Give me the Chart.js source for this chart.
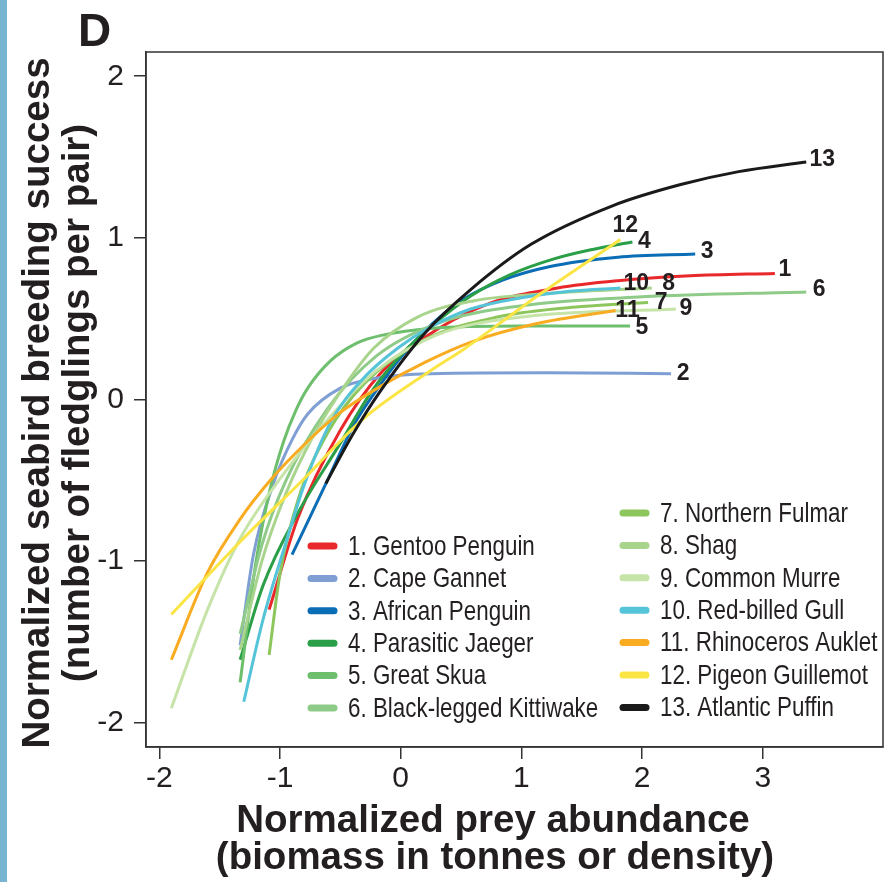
<!DOCTYPE html>
<html><head><meta charset="utf-8">
<script src="https://cdn.jsdelivr.net/npm/chart.js@4.4.1/dist/chart.umd.min.js"></script>
<style>html,body{margin:0;padding:0;background:#fff;}canvas{display:block}</style>
</head><body>
<canvas id="c" width="890" height="882"></canvas>
<script>
// ---- categories / ticks ----
const categories = ["1. Gentoo Penguin","2. Cape Gannet","3. African Penguin","4. Parasitic Jaeger","5. Great Skua","6. Black-legged Kittiwake","7. Northern Fulmar","8. Shag","9. Common Murre","10. Red-billed Gull","11. Rhinoceros Auklet","12. Pigeon Guillemot","13. Atlantic Puffin"];
const endLabels = ["1","2","3","4","5","6","7","8","9","10","11","12","13"];
const xTicks = [-2,-1,0,1,2,3];
const yTicks = [-2,-1,0,1,2];

// ---- series values [prey abundance, breeding success] ----
const gentooPenguin = [[-1.09,-1.30],[-0.85,-0.73],[-0.5,-0.19],[-0.17,0.16],[0.17,0.37],[0.72,0.59],[1.3,0.69],[1.8,0.735],[2.4,0.765],[3.1,0.78]];
const capeGannet = [[-1.33,-1.52],[-1.22,-0.96],[-1.05,-0.51],[-0.9,-0.25],[-0.77,-0.09],[-0.5,0.07],[-0.22,0.13],[0.25,0.16],[1.2,0.165],[2.24,0.16]];
const africanPenguin = [[-0.9,-0.96],[-0.6,-0.49],[-0.39,-0.16],[-0.18,0.08],[0,0.26],[0.25,0.46],[0.52,0.62],[0.85,0.74],[1.22,0.82],[1.8,0.88],[2.44,0.90]];
const parasiticJaeger = [[-1.33,-1.61],[-1.14,-1.15],[-0.85,-0.7],[-0.5,-0.27],[-0.25,0.04],[0.02,0.29],[0.25,0.45],[0.58,0.64],[0.9,0.77],[1.27,0.87],[1.6,0.93],[1.92,0.975]];
const greatSkua = [[-1.33,-1.75],[-1.2,-1.01],[-1.08,-0.55],[-0.97,-0.26],[-0.87,-0.07],[-0.77,0.07],[-0.58,0.24],[-0.36,0.35],[-0.14,0.4],[0.25,0.44],[1.0,0.455],[1.9,0.455]];
const kittiwake = [[-1.33,-1.45],[-1.15,-0.9],[-0.95,-0.5],[-0.6,-0.05],[-0.2,0.27],[0.3,0.47],[1.0,0.58],[2.0,0.635],[3.36,0.665]];
const northernFulmar = [[-1.09,-1.58],[-1.0,-1.08],[-0.85,-0.62],[-0.6,-0.2],[-0.3,0.1],[0.2,0.37],[0.8,0.51],[1.5,0.575],[2.05,0.6]];
const shag = [[-1.33,-1.55],[-1.15,-1.0],[-0.95,-0.58],[-0.72,-0.22],[-0.45,0.1],[-0.22,0.32],[0.14,0.51],[0.6,0.61],[1.3,0.66],[2.08,0.69]];
const commonMurre = [[-1.9,-1.91],[-1.6,-1.3],[-1.33,-0.86],[-0.99,-0.48],[-0.6,-0.12],[-0.2,0.18],[0.3,0.4],[1.0,0.51],[2.28,0.56]];
const redBilledGull = [[-1.3,-1.87],[-1.14,-1.36],[-0.94,-0.86],[-0.8,-0.53],[-0.58,-0.14],[-0.31,0.13],[-0.02,0.32],[0.25,0.45],[0.58,0.56],[1.0,0.63],[1.4,0.67],[1.82,0.69]];
const rhinocerosAuklet = [[-1.9,-1.61],[-1.6,-1.07],[-1.33,-0.74],[-1.08,-0.5],[-0.8,-0.28],[-0.5,-0.08],[-0.17,0.08],[0.2,0.23],[0.6,0.36],[1.13,0.47],[1.78,0.55]];
const pigeonGuillemot = [[-1.9,-1.33],[-1.33,-0.88],[-0.8,-0.49],[-0.31,-0.12],[0.25,0.18],[0.52,0.31],[1.17,0.66],[1.82,0.99]];
const atlanticPuffin = [[-0.62,-0.52],[-0.4,-0.22],[-0.17,0.05],[0.2,0.41],[0.58,0.68],[1.08,0.96],[1.76,1.2],[2.32,1.33],[2.8,1.41],[3.36,1.47]];

const seriesValues = [gentooPenguin,capeGannet,africanPenguin,parasiticJaeger,greatSkua,kittiwake,northernFulmar,shag,commonMurre,redBilledGull,rhinocerosAuklet,pigeonGuillemot,atlanticPuffin];

// ---- styles ----
const colors = ["#e8282b","#7f9fd4","#0a6db5","#2b9f47","#6dbf6d","#8fcb88","#8dc65c","#a8d48c","#c6e3a8","#55c3d8","#f9ac22","#fbe545","#1a1a1a"];
const labelOffsets = [[10,-4],[12,0],[12,-2],[12,0],[12,2],[13,-2],[13,0],[17,-4],[10,0],[16,-4],[12,0],[5,-14],[16,-2]];
const INK = "#231f20";

const datasets = seriesValues.map((pts,i)=>({
  label: categories[i],
  data: pts.map(p=>({x:p[0],y:p[1]})),
  showLine: true,
  borderColor: colors[i],
  backgroundColor: colors[i],
  borderWidth: 3,
  pointRadius: 0,
  cubicInterpolationMode: 'monotone',
  fill: false,
  order: 12 - i
}));

function narrowText(ctx, text, x, y, sx){
  ctx.save();
  ctx.translate(x, y);
  ctx.scale(sx, 1);
  ctx.fillText(text, 0, 0);
  ctx.restore();
}

const decor = {
  id: 'decor',
  beforeDraw(chart){
    const ctx = chart.ctx;
    ctx.save();
    ctx.fillStyle = '#fff';
    ctx.fillRect(0,0,chart.width,chart.height);
    ctx.fillStyle = '#78b5d0';
    ctx.fillRect(0,0,7,chart.height);
    ctx.restore();
  },
  afterDraw(chart){
    const ctx = chart.ctx, a = chart.chartArea;
    const xs = chart.scales.x, ys = chart.scales.y;
    ctx.save();
    // box
    ctx.strokeStyle = '#333'; ctx.lineWidth = 1.5;
    ctx.strokeRect(a.left, a.top, a.right-a.left, a.bottom-a.top);
    // panel letter
    ctx.fillStyle = INK;
    ctx.font = 'bold 46px "Liberation Sans", Arial, sans-serif';
    ctx.textAlign = 'left'; ctx.textBaseline = 'alphabetic';
    ctx.fillText('D', 78, 46);
    // x title
    ctx.font = 'bold 38.5px "Liberation Sans", Arial, sans-serif';
    ctx.textAlign = 'center'; ctx.textBaseline = 'middle';
    ctx.fillText('Normalized prey abundance', 493, 821);
    ctx.fillText('(biomass in tonnes or density)', 495, 858);
    // y title
    ctx.save();
    ctx.translate(38, 403);
    ctx.rotate(-Math.PI/2);
    ctx.fillText('Normalized seabird breeding success', 0, 0);
    ctx.restore();
    ctx.save();
    ctx.translate(78, 403);
    ctx.rotate(-Math.PI/2);
    ctx.fillText('(number of fledglings per pair)', 0, 0);
    ctx.restore();
    // end labels
    ctx.font = 'bold 23px "Liberation Sans", Arial, sans-serif';
    ctx.textAlign = 'center'; ctx.textBaseline = 'middle';
    seriesValues.forEach((pts,i)=>{
      const last = pts[pts.length-1];
      const px = xs.getPixelForValue(last[0]) + labelOffsets[i][0];
      const py = ys.getPixelForValue(last[1]) + labelOffsets[i][1];
      ctx.fillStyle = INK;
      ctx.fillText(endLabels[i], px, py);
    });
    // legend
    ctx.font = '28px "Liberation Sans", Arial, sans-serif';
    ctx.textAlign = 'left'; ctx.textBaseline = 'middle';
    ctx.lineCap = 'round'; ctx.lineWidth = 7;
    const rowH = 32.4;
    categories.forEach((name,i)=>{
      let sx, ty;
      if (i < 6) { sx = 311; ty = 546 + rowH*i; }
      else { sx = 623; ty = 513 + rowH*(i-6); }
      ctx.strokeStyle = colors[i];
      ctx.beginPath(); ctx.moveTo(sx, ty); ctx.lineTo(sx+23, ty); ctx.stroke();
      ctx.fillStyle = INK;
      narrowText(ctx, name, sx + 37, ty + 1, 0.8);
    });
    ctx.restore();
  }
};

new Chart(document.getElementById('c'), {
  type: 'scatter',
  data: { datasets },
  options: {
    responsive: false,
    animation: false,
    devicePixelRatio: 1,
    layout: { padding: { left: 0, right: 7, top: 52, bottom: 0 } },
    plugins: { legend: { display: false }, tooltip: { enabled: false }, title: { display: false } },
    scales: {
      x: {
        type: 'linear', min: -2.11, max: 3.996,
        afterBuildTicks: s => { s.ticks = xTicks.map(v => ({ value: v })); },
        afterFit: s => { s.height = 135; },
        ticks: { color: INK, font: { family: '"Liberation Sans", Arial, sans-serif', size: 30 }, padding: 2, maxRotation: 0, autoSkip: false },
        grid: { drawOnChartArea: false, drawTicks: true, tickLength: 12, color: '#333', lineWidth: 1.5 },
        border: { display: true, color: '#333', width: 1.5 }
      },
      y: {
        type: 'linear', min: -2.15, max: 2.15,
        afterBuildTicks: s => { s.ticks = yTicks.map(v => ({ value: v })); },
        afterFit: s => { s.width = 146; },
        ticks: { color: INK, font: { family: '"Liberation Sans", Arial, sans-serif', size: 30 }, padding: 10, autoSkip: false },
        grid: { drawOnChartArea: false, drawTicks: true, tickLength: 12, color: '#333', lineWidth: 1.5 },
        border: { display: true, color: '#333', width: 1.5 }
      }
    }
  },
  plugins: [decor]
});
</script>
</body></html>
